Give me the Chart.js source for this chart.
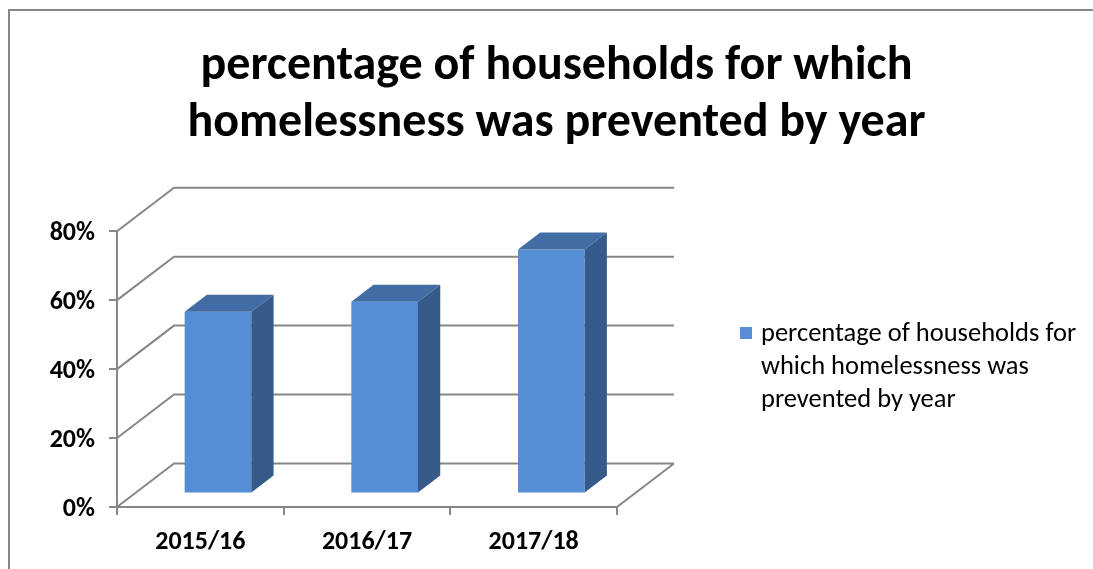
<!DOCTYPE html>
<html>
<head>
<meta charset="utf-8">
<title>Homelessness prevented</title>
<script src="https://cdn.jsdelivr.net/npm/chart.js@4.4.1/dist/chart.umd.min.js"></script>
<style>
  html, body { margin: 0; padding: 0; background: #fff; }
  canvas { display: block; }
</style>
</head>
<body>
<canvas id="grafica" width="1093" height="569"></canvas>
<script>
// Datos
const categorias = ['2015/16', '2016/17', '2017/18'];
const porcentajes = [52.7, 55.6, 70.8];
const marcasY = [0, 20, 40, 60, 80];
const nombreSerie = 'percentage of households for which homelessness was prevented by year';
const titulo = ['percentage of households for which', 'homelessness was prevented by year'];

const fuente = 'Calibri, Carlito, Lato, sans-serif';
const gris = '#878787';
const colorFrente = '#558ED5';
const colorTapa = '#416CA4';
const colorLado = '#365B8B';

// Profundidad del efecto 3D: cuanto se corre la pared del fondo
const fondoX = 57, fondoY = -43.5;
// La barra va de esta fraccion de la profundidad a esta otra
const barraIni = 0.31, barraFin = 0.70;

// Fondo blanco y marco gris del grafico
const marco = {
    id: 'marco',
    beforeDraw(chart) {
        const ctx = chart.ctx;
        ctx.save();
        ctx.fillStyle = '#fff';
        ctx.fillRect(0, 0, chart.width, chart.height);
        ctx.strokeStyle = gris;
        ctx.lineWidth = 2;
        ctx.strokeRect(9, 10, chart.width + 40, chart.height + 40);
        ctx.restore();
    }
};

// Pared izquierda, pared del fondo y borde del piso
const paredes = {
    id: 'paredes',
    beforeDatasetsDraw(chart) {
        const { ctx, chartArea: a, scales: { y } } = chart;
        ctx.save();
        ctx.strokeStyle = gris;
        ctx.lineWidth = 2;
        ctx.beginPath();
        y.ticks.forEach(t => {
            const py = y.getPixelForValue(t.value);
            ctx.moveTo(a.left, py);
            ctx.lineTo(a.left + fondoX, py + fondoY);
            ctx.lineTo(a.right + fondoX, py + fondoY);
        });
        const py0 = y.getPixelForValue(0);
        ctx.moveTo(a.right, py0);
        ctx.lineTo(a.right + fondoX, py0 + fondoY);
        ctx.stroke();
        ctx.restore();
    }
};

// Corre las barras hacia adentro y les pone tapa y costado
const barras3d = {
    id: 'barras3d',
    beforeDatasetsDraw(chart) {
        chart.ctx.save();
        chart.ctx.translate(fondoX * barraIni, fondoY * barraIni);
    },
    afterDatasetsDraw(chart) {
        const ctx = chart.ctx;
        const dx = fondoX * (barraFin - barraIni);
        const dy = fondoY * (barraFin - barraIni);
        chart.getDatasetMeta(0).data.forEach(bar => {
            const { x, y, base, width } = bar.getProps(['x', 'y', 'base', 'width'], true);
            const l = x - width / 2, r = x + width / 2;
            ctx.fillStyle = colorTapa;
            ctx.beginPath();
            ctx.moveTo(l, y);
            ctx.lineTo(l + dx, y + dy);
            ctx.lineTo(r + dx, y + dy);
            ctx.lineTo(r, y);
            ctx.closePath();
            ctx.fill();
            ctx.fillStyle = colorLado;
            ctx.beginPath();
            ctx.moveTo(r, y);
            ctx.lineTo(r + dx, y + dy);
            ctx.lineTo(r + dx, base + dy);
            ctx.lineTo(r, base);
            ctx.closePath();
            ctx.fill();
        });
        ctx.restore();
    }
};

// Leyenda a la derecha, con el nombre de la serie en varias lineas
function partirTexto(ctx, texto, ancho) {
    const lineas = [];
    let actual = '';
    texto.split(' ').forEach(p => {
        const prueba = actual ? actual + ' ' + p : p;
        if (ctx.measureText(prueba).width > ancho && actual) {
            lineas.push(actual);
            actual = p;
        } else {
            actual = prueba;
        }
    });
    if (actual) lineas.push(actual);
    return lineas;
}

const leyenda = {
    id: 'leyenda',
    afterDraw(chart) {
        const ctx = chart.ctx;
        ctx.save();
        ctx.fillStyle = chart.data.datasets[0].backgroundColor;
        ctx.fillRect(740, 327, 12, 12);
        ctx.fillStyle = '#000';
        ctx.font = `26.5px ${fuente}`;
        ctx.textBaseline = 'alphabetic';
        partirTexto(ctx, chart.data.datasets[0].label, 335).forEach((t, i) => {
            ctx.fillText(t, 761, 341 + i * 33);
        });
        ctx.restore();
    }
};

const fuenteEje = { family: fuente, size: 26, weight: 'bold' };

const config = {
    type: 'bar',
    data: {
        labels: categorias,
        datasets: [{
            label: nombreSerie,
            data: porcentajes,
            backgroundColor: colorFrente,
            borderWidth: 0,
            categoryPercentage: 1,
            barPercentage: 0.4
        }]
    },
    options: {
        responsive: false,
        animation: false,
        layout: { padding: { left: 20, right: 0, top: 0, bottom: 0 } },
        plugins: {
            legend: { display: false },
            tooltip: { enabled: false },
            title: {
                display: true,
                text: titulo,
                color: '#000',
                font: { family: fuente, size: 48, weight: 'bold', lineHeight: 1.2 },
                padding: { top: 38, bottom: 78 }
            }
        },
        scales: {
            x: {
                grid: { offset: true, drawOnChartArea: false, tickLength: 8, color: gris, lineWidth: 2 },
                border: { display: true, color: gris, width: 2 },
                ticks: { color: '#000', font: fuenteEje, padding: 12, maxRotation: 0 },
                afterFit: s => { s.height = 569 - 507; }
            },
            y: {
                min: 0,
                max: 80,
                afterBuildTicks: s => { s.ticks = marcasY.map(v => ({ value: v })); },
                grid: { drawOnChartArea: false, tickLength: 8, color: gris, lineWidth: 2 },
                border: { display: true, color: gris, width: 2 },
                ticks: { color: '#000', font: fuenteEje, padding: 14, labelOffset: 2, callback: v => v + '%' },
                afterFit: s => { s.width = 117 - 20; }
            },
            // eje vacio que reserva el espacio de la leyenda
            espacio: {
                type: 'linear',
                position: 'right',
                grid: { display: false },
                border: { display: false },
                ticks: { display: false },
                afterFit: s => { s.width = 1093 - 617; }
            }
        }
    },
    plugins: [marco, paredes, barras3d, leyenda]
};

const grafico = new Chart(document.getElementById('grafica'), config);
</script>
</body>
</html>
